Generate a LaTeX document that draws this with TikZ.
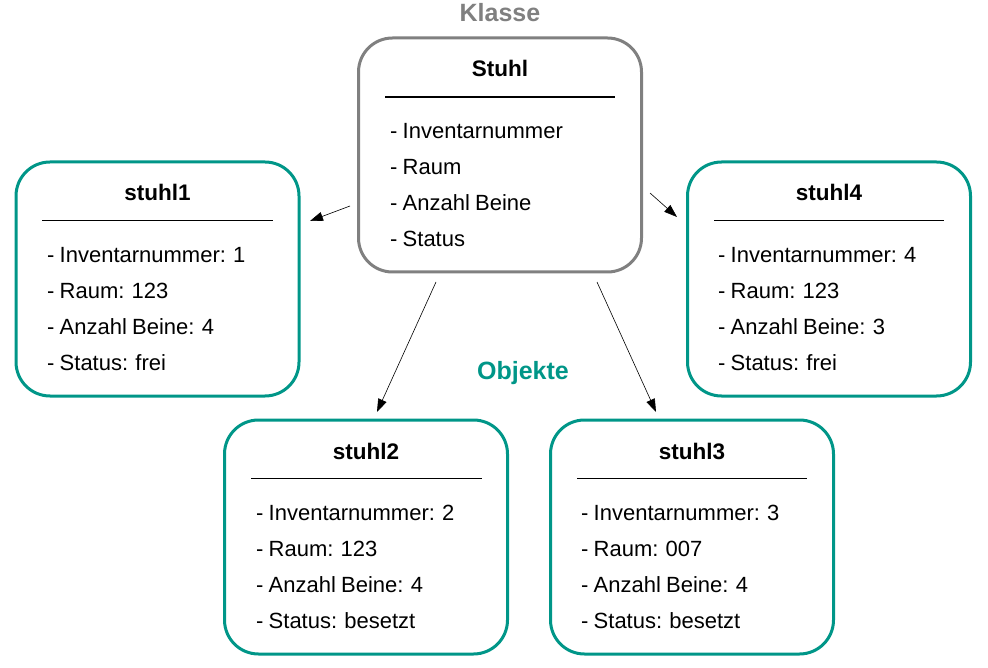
\documentclass[tikz,border=0pt]{standalone}
\usepackage{fontspec}
\setmainfont[WordSpace=0.85]{Liberation Sans}
\usetikzlibrary{arrows.meta}
\definecolor{teal1}{RGB}{0,150,136}
\definecolor{gray1}{RGB}{128,128,128}
\tikzset{
  objbox/.style={draw=teal1, line width=3pt, rounded corners=34pt, minimum width=283pt, minimum height=234pt, inner sep=0pt},
  clsbox/.style={objbox, draw=gray1},
  ttl/.style={font=\fontsize{22.5}{26}\selectfont\bfseries, anchor=base, inner sep=0pt},
  item/.style={font=\fontsize{22}{26}\selectfont, anchor=base west, inner sep=0pt},
  sep/.style={line width=1.6pt},
  arr/.style={line width=0.6pt, -{Triangle[length=13pt,width=9pt]}},
  lbl/.style={font=\fontsize{25}{29}\selectfont\bfseries, anchor=base, inner sep=0pt}
}
\begin{document}
\begin{tikzpicture}[x=1pt,y=-1pt]
\useasboundingbox (0,0) rectangle (988,668);
% labels
\node[lbl, text=gray1] (klasse) at (500,22) {Klasse};
\node[lbl, text=teal1] (objekte) at (523,379) {Objekte};
% class box
\node[clsbox] (stuhl) at (500,155) {};
\node[ttl] (stuhlT) at (500,77) {Stuhl};
\draw[sep] (385,97) -- (615,97);
\node[item] (stuhlA) at (390,138.5) {- Inventarnummer};
\node[item] (stuhlB) at (390,174.5) {- Raum};
\node[item] (stuhlC) at (390,210.5) {- Anzahl Beine};
\node[item] (stuhlD) at (390,246.5) {- Status};
% stuhl1
\node[objbox] (s1) at (157.5,279) {};
\node[ttl] (s1T) at (157.5,201) {stuhl1};
\draw[sep] (42,220.5) -- (273,220.5);
\node[item] (s1A) at (47,262.5) {- Inventarnummer: 1};
\node[item] (s1B) at (47,298.5) {- Raum: 123};
\node[item] (s1C) at (47,334.5) {- Anzahl Beine: 4};
\node[item] (s1D) at (47,370.5) {- Status: frei};
% stuhl4
\node[objbox] (s4) at (829,279) {};
\node[ttl] (s4T) at (829,201) {stuhl4};
\draw[sep] (714,220.5) -- (944,220.5);
\node[item] (s4A) at (718,262.5) {- Inventarnummer: 4};
\node[item] (s4B) at (718,298.5) {- Raum: 123};
\node[item] (s4C) at (718,334.5) {- Anzahl Beine: 3};
\node[item] (s4D) at (718,370.5) {- Status: frei};
% stuhl2
\node[objbox] (s2) at (366,537) {};
\node[ttl] (s2T) at (366,459) {stuhl2};
\draw[sep] (251,478.5) -- (482,478.5);
\node[item] (s2A) at (256,520.5) {- Inventarnummer: 2};
\node[item] (s2B) at (256,556.5) {- Raum: 123};
\node[item] (s2C) at (256,592.5) {- Anzahl Beine: 4};
\node[item] (s2D) at (256,628.5) {- Status: besetzt};
% stuhl3
\node[objbox] (s3) at (692,537) {};
\node[ttl] (s3T) at (692,459) {stuhl3};
\draw[sep] (577,478.5) -- (807,478.5);
\node[item] (s3A) at (581,520.5) {- Inventarnummer: 3};
\node[item] (s3B) at (581,556.5) {- Raum: 007};
\node[item] (s3C) at (581,592.5) {- Anzahl Beine: 4};
\node[item] (s3D) at (581,628.5) {- Status: besetzt};
% arrows
\coordinate (a1s) at (350,206); \coordinate (a1e) at (310,221);
\coordinate (a2s) at (650,193); \coordinate (a2e) at (677,217);
\coordinate (a3s) at (436,282); \coordinate (a3e) at (377,412);
\coordinate (a4s) at (597,282); \coordinate (a4e) at (656,412);
\draw[arr] (a1s) -- (a1e);
\draw[arr] (a2s) -- (a2e);
\draw[arr] (a3s) -- (a3e);
\draw[arr] (a4s) -- (a4e);
\end{tikzpicture}
\end{document}
